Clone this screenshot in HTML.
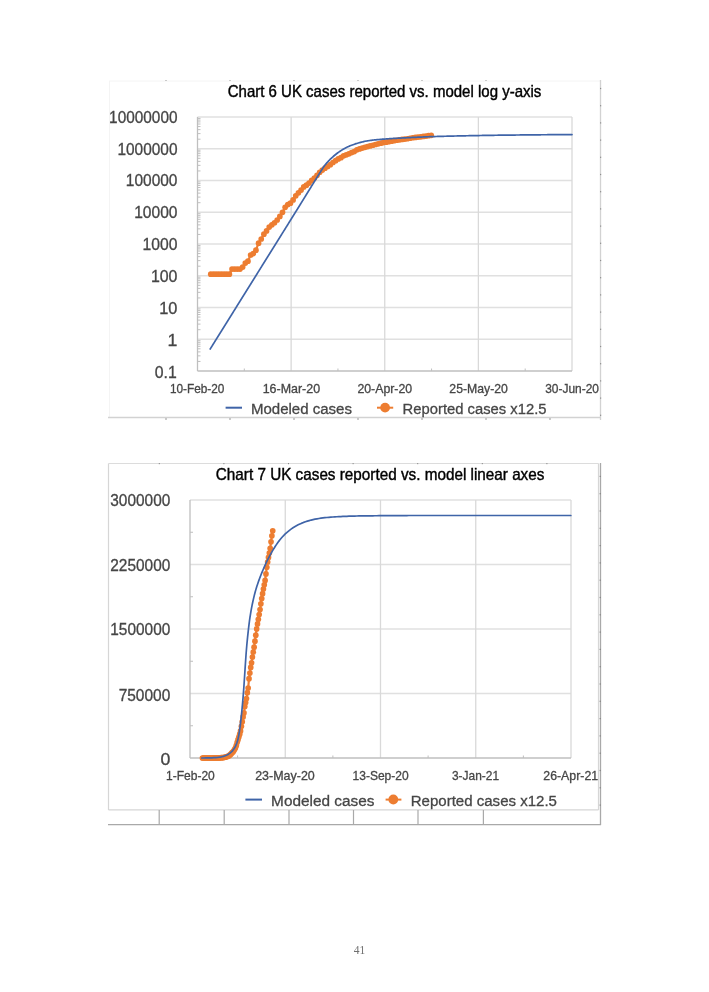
<!DOCTYPE html>
<html><head><meta charset="utf-8"><title>Chart 6 and Chart 7</title>
<style>
html,body{margin:0;padding:0;background:#fff;}
body{width:709px;height:992px;overflow:hidden;}
svg{display:block;font-family:"Liberation Sans",sans-serif;will-change:transform;}

</style></head><body>
<svg width="709" height="992" viewBox="0 0 709 992">
<rect x="0" y="0" width="709" height="992" fill="#fff"/>
<line x1="109" y1="81" x2="600" y2="81" stroke="#f4f4f4" stroke-width="1"/>
<line x1="109.5" y1="81" x2="109.5" y2="417" stroke="#f4f4f4" stroke-width="1"/>
<line x1="108" y1="417.5" x2="601" y2="417.5" stroke="#d2d2d2" stroke-width="1.3"/>
<line x1="600.5" y1="80" x2="600.5" y2="420" stroke="#d2d2d2" stroke-width="1.3"/>
<rect x="165.5" y="80" width="1" height="1" fill="#9a9a9a"/>
<rect x="165.5" y="418" width="1" height="2" fill="#9a9a9a"/>
<rect x="229.5" y="80" width="1" height="1" fill="#9a9a9a"/>
<rect x="229.5" y="418" width="1" height="2" fill="#9a9a9a"/>
<rect x="293.5" y="80" width="1" height="1" fill="#9a9a9a"/>
<rect x="293.5" y="418" width="1" height="2" fill="#9a9a9a"/>
<rect x="357.5" y="80" width="1" height="1" fill="#9a9a9a"/>
<rect x="357.5" y="418" width="1" height="2" fill="#9a9a9a"/>
<rect x="421.5" y="80" width="1" height="1" fill="#9a9a9a"/>
<rect x="421.5" y="418" width="1" height="2" fill="#9a9a9a"/>
<rect x="485.5" y="80" width="1" height="1" fill="#9a9a9a"/>
<rect x="485.5" y="418" width="1" height="2" fill="#9a9a9a"/>
<rect x="549.5" y="418" width="1" height="2" fill="#9a9a9a"/>
<rect x="600" y="87.9" width="1.2" height="1.2" fill="#8f8f8f"/>
<rect x="600" y="105.1" width="1.2" height="1.2" fill="#8f8f8f"/>
<rect x="600" y="122.3" width="1.2" height="1.2" fill="#8f8f8f"/>
<rect x="600" y="139.5" width="1.2" height="1.2" fill="#8f8f8f"/>
<rect x="600" y="156.7" width="1.2" height="1.2" fill="#8f8f8f"/>
<rect x="600" y="173.9" width="1.2" height="1.2" fill="#8f8f8f"/>
<rect x="600" y="191.1" width="1.2" height="1.2" fill="#8f8f8f"/>
<rect x="600" y="208.3" width="1.2" height="1.2" fill="#8f8f8f"/>
<rect x="600" y="225.5" width="1.2" height="1.2" fill="#8f8f8f"/>
<rect x="600" y="242.7" width="1.2" height="1.2" fill="#8f8f8f"/>
<rect x="600" y="259.9" width="1.2" height="1.2" fill="#8f8f8f"/>
<rect x="600" y="277.1" width="1.2" height="1.2" fill="#8f8f8f"/>
<rect x="600" y="294.3" width="1.2" height="1.2" fill="#8f8f8f"/>
<rect x="600" y="311.5" width="1.2" height="1.2" fill="#8f8f8f"/>
<rect x="600" y="328.7" width="1.2" height="1.2" fill="#8f8f8f"/>
<rect x="600" y="345.9" width="1.2" height="1.2" fill="#8f8f8f"/>
<rect x="600" y="363.1" width="1.2" height="1.2" fill="#8f8f8f"/>
<rect x="600" y="380.3" width="1.2" height="1.2" fill="#8f8f8f"/>
<rect x="600" y="397.5" width="1.2" height="1.2" fill="#8f8f8f"/>
<rect x="600" y="414.7" width="1.2" height="1.2" fill="#8f8f8f"/>
<line x1="197.5" y1="117" x2="572" y2="117" stroke="#e0e0e0" stroke-width="1.5"/>
<line x1="197.5" y1="148.75" x2="572" y2="148.75" stroke="#e0e0e0" stroke-width="1.5"/>
<line x1="197.5" y1="180.5" x2="572" y2="180.5" stroke="#e0e0e0" stroke-width="1.5"/>
<line x1="197.5" y1="212.25" x2="572" y2="212.25" stroke="#e0e0e0" stroke-width="1.5"/>
<line x1="197.5" y1="244" x2="572" y2="244" stroke="#e0e0e0" stroke-width="1.5"/>
<line x1="197.5" y1="275.75" x2="572" y2="275.75" stroke="#e0e0e0" stroke-width="1.5"/>
<line x1="197.5" y1="307.5" x2="572" y2="307.5" stroke="#e0e0e0" stroke-width="1.5"/>
<line x1="197.5" y1="339.25" x2="572" y2="339.25" stroke="#e0e0e0" stroke-width="1.5"/>
<line x1="291.12" y1="117" x2="291.12" y2="371" stroke="#d9d9d9" stroke-width="1.3"/>
<line x1="384.75" y1="117" x2="384.75" y2="371" stroke="#d9d9d9" stroke-width="1.3"/>
<line x1="478.38" y1="117" x2="478.38" y2="371" stroke="#d9d9d9" stroke-width="1.3"/>
<line x1="572" y1="117" x2="572" y2="371" stroke="#d9d9d9" stroke-width="1.3"/>
<line x1="197.5" y1="117" x2="197.5" y2="371" stroke="#bfbfbf" stroke-width="1.3"/>
<line x1="197.5" y1="371" x2="572" y2="371" stroke="#bfbfbf" stroke-width="1.3"/>
<line x1="197.5" y1="361.44" x2="200.5" y2="361.44" stroke="#bfbfbf" stroke-width="1"/>
<line x1="197.5" y1="355.85" x2="200.5" y2="355.85" stroke="#bfbfbf" stroke-width="1"/>
<line x1="197.5" y1="351.88" x2="200.5" y2="351.88" stroke="#bfbfbf" stroke-width="1"/>
<line x1="197.5" y1="348.81" x2="200.5" y2="348.81" stroke="#bfbfbf" stroke-width="1"/>
<line x1="197.5" y1="346.29" x2="200.5" y2="346.29" stroke="#bfbfbf" stroke-width="1"/>
<line x1="197.5" y1="344.17" x2="200.5" y2="344.17" stroke="#bfbfbf" stroke-width="1"/>
<line x1="197.5" y1="342.33" x2="200.5" y2="342.33" stroke="#bfbfbf" stroke-width="1"/>
<line x1="197.5" y1="340.7" x2="200.5" y2="340.7" stroke="#bfbfbf" stroke-width="1"/>
<line x1="197.5" y1="329.69" x2="200.5" y2="329.69" stroke="#bfbfbf" stroke-width="1"/>
<line x1="197.5" y1="324.1" x2="200.5" y2="324.1" stroke="#bfbfbf" stroke-width="1"/>
<line x1="197.5" y1="320.13" x2="200.5" y2="320.13" stroke="#bfbfbf" stroke-width="1"/>
<line x1="197.5" y1="317.06" x2="200.5" y2="317.06" stroke="#bfbfbf" stroke-width="1"/>
<line x1="197.5" y1="314.54" x2="200.5" y2="314.54" stroke="#bfbfbf" stroke-width="1"/>
<line x1="197.5" y1="312.42" x2="200.5" y2="312.42" stroke="#bfbfbf" stroke-width="1"/>
<line x1="197.5" y1="310.58" x2="200.5" y2="310.58" stroke="#bfbfbf" stroke-width="1"/>
<line x1="197.5" y1="308.95" x2="200.5" y2="308.95" stroke="#bfbfbf" stroke-width="1"/>
<line x1="197.5" y1="297.94" x2="200.5" y2="297.94" stroke="#bfbfbf" stroke-width="1"/>
<line x1="197.5" y1="292.35" x2="200.5" y2="292.35" stroke="#bfbfbf" stroke-width="1"/>
<line x1="197.5" y1="288.38" x2="200.5" y2="288.38" stroke="#bfbfbf" stroke-width="1"/>
<line x1="197.5" y1="285.31" x2="200.5" y2="285.31" stroke="#bfbfbf" stroke-width="1"/>
<line x1="197.5" y1="282.79" x2="200.5" y2="282.79" stroke="#bfbfbf" stroke-width="1"/>
<line x1="197.5" y1="280.67" x2="200.5" y2="280.67" stroke="#bfbfbf" stroke-width="1"/>
<line x1="197.5" y1="278.83" x2="200.5" y2="278.83" stroke="#bfbfbf" stroke-width="1"/>
<line x1="197.5" y1="277.2" x2="200.5" y2="277.2" stroke="#bfbfbf" stroke-width="1"/>
<line x1="197.5" y1="266.19" x2="200.5" y2="266.19" stroke="#bfbfbf" stroke-width="1"/>
<line x1="197.5" y1="260.6" x2="200.5" y2="260.6" stroke="#bfbfbf" stroke-width="1"/>
<line x1="197.5" y1="256.63" x2="200.5" y2="256.63" stroke="#bfbfbf" stroke-width="1"/>
<line x1="197.5" y1="253.56" x2="200.5" y2="253.56" stroke="#bfbfbf" stroke-width="1"/>
<line x1="197.5" y1="251.04" x2="200.5" y2="251.04" stroke="#bfbfbf" stroke-width="1"/>
<line x1="197.5" y1="248.92" x2="200.5" y2="248.92" stroke="#bfbfbf" stroke-width="1"/>
<line x1="197.5" y1="247.08" x2="200.5" y2="247.08" stroke="#bfbfbf" stroke-width="1"/>
<line x1="197.5" y1="245.45" x2="200.5" y2="245.45" stroke="#bfbfbf" stroke-width="1"/>
<line x1="197.5" y1="234.44" x2="200.5" y2="234.44" stroke="#bfbfbf" stroke-width="1"/>
<line x1="197.5" y1="228.85" x2="200.5" y2="228.85" stroke="#bfbfbf" stroke-width="1"/>
<line x1="197.5" y1="224.88" x2="200.5" y2="224.88" stroke="#bfbfbf" stroke-width="1"/>
<line x1="197.5" y1="221.81" x2="200.5" y2="221.81" stroke="#bfbfbf" stroke-width="1"/>
<line x1="197.5" y1="219.29" x2="200.5" y2="219.29" stroke="#bfbfbf" stroke-width="1"/>
<line x1="197.5" y1="217.17" x2="200.5" y2="217.17" stroke="#bfbfbf" stroke-width="1"/>
<line x1="197.5" y1="215.33" x2="200.5" y2="215.33" stroke="#bfbfbf" stroke-width="1"/>
<line x1="197.5" y1="213.7" x2="200.5" y2="213.7" stroke="#bfbfbf" stroke-width="1"/>
<line x1="197.5" y1="202.69" x2="200.5" y2="202.69" stroke="#bfbfbf" stroke-width="1"/>
<line x1="197.5" y1="197.1" x2="200.5" y2="197.1" stroke="#bfbfbf" stroke-width="1"/>
<line x1="197.5" y1="193.13" x2="200.5" y2="193.13" stroke="#bfbfbf" stroke-width="1"/>
<line x1="197.5" y1="190.06" x2="200.5" y2="190.06" stroke="#bfbfbf" stroke-width="1"/>
<line x1="197.5" y1="187.54" x2="200.5" y2="187.54" stroke="#bfbfbf" stroke-width="1"/>
<line x1="197.5" y1="185.42" x2="200.5" y2="185.42" stroke="#bfbfbf" stroke-width="1"/>
<line x1="197.5" y1="183.58" x2="200.5" y2="183.58" stroke="#bfbfbf" stroke-width="1"/>
<line x1="197.5" y1="181.95" x2="200.5" y2="181.95" stroke="#bfbfbf" stroke-width="1"/>
<line x1="197.5" y1="170.94" x2="200.5" y2="170.94" stroke="#bfbfbf" stroke-width="1"/>
<line x1="197.5" y1="165.35" x2="200.5" y2="165.35" stroke="#bfbfbf" stroke-width="1"/>
<line x1="197.5" y1="161.38" x2="200.5" y2="161.38" stroke="#bfbfbf" stroke-width="1"/>
<line x1="197.5" y1="158.31" x2="200.5" y2="158.31" stroke="#bfbfbf" stroke-width="1"/>
<line x1="197.5" y1="155.79" x2="200.5" y2="155.79" stroke="#bfbfbf" stroke-width="1"/>
<line x1="197.5" y1="153.67" x2="200.5" y2="153.67" stroke="#bfbfbf" stroke-width="1"/>
<line x1="197.5" y1="151.83" x2="200.5" y2="151.83" stroke="#bfbfbf" stroke-width="1"/>
<line x1="197.5" y1="150.2" x2="200.5" y2="150.2" stroke="#bfbfbf" stroke-width="1"/>
<line x1="197.5" y1="139.19" x2="200.5" y2="139.19" stroke="#bfbfbf" stroke-width="1"/>
<line x1="197.5" y1="133.6" x2="200.5" y2="133.6" stroke="#bfbfbf" stroke-width="1"/>
<line x1="197.5" y1="129.63" x2="200.5" y2="129.63" stroke="#bfbfbf" stroke-width="1"/>
<line x1="197.5" y1="126.56" x2="200.5" y2="126.56" stroke="#bfbfbf" stroke-width="1"/>
<line x1="197.5" y1="124.04" x2="200.5" y2="124.04" stroke="#bfbfbf" stroke-width="1"/>
<line x1="197.5" y1="121.92" x2="200.5" y2="121.92" stroke="#bfbfbf" stroke-width="1"/>
<line x1="197.5" y1="120.08" x2="200.5" y2="120.08" stroke="#bfbfbf" stroke-width="1"/>
<line x1="197.5" y1="118.45" x2="200.5" y2="118.45" stroke="#bfbfbf" stroke-width="1"/>
<line x1="244.31" y1="371" x2="244.31" y2="368.5" stroke="#bfbfbf" stroke-width="1"/>
<line x1="337.94" y1="371" x2="337.94" y2="368.5" stroke="#bfbfbf" stroke-width="1"/>
<line x1="431.56" y1="371" x2="431.56" y2="368.5" stroke="#bfbfbf" stroke-width="1"/>
<line x1="525.19" y1="371" x2="525.19" y2="368.5" stroke="#bfbfbf" stroke-width="1"/>
<text x="177.5" y="122.9" font-size="15.8" text-anchor="end" fill="#464646" stroke="#464646" stroke-width="0.3" textLength="68.38" lengthAdjust="spacingAndGlyphs">10000000</text>
<text x="177.5" y="154.65" font-size="15.8" text-anchor="end" fill="#464646" stroke="#464646" stroke-width="0.3" textLength="60.02" lengthAdjust="spacingAndGlyphs">1000000</text>
<text x="177.5" y="186.4" font-size="15.8" text-anchor="end" fill="#464646" stroke="#464646" stroke-width="0.3" textLength="51.66" lengthAdjust="spacingAndGlyphs">100000</text>
<text x="177.5" y="218.15" font-size="15.8" text-anchor="end" fill="#464646" stroke="#464646" stroke-width="0.3" textLength="43.3" lengthAdjust="spacingAndGlyphs">10000</text>
<text x="177.5" y="250.3" font-size="15.8" text-anchor="end" fill="#464646" stroke="#464646" stroke-width="0.3" textLength="34.94" lengthAdjust="spacingAndGlyphs">1000</text>
<text x="177.5" y="282.25" font-size="15.8" text-anchor="end" fill="#464646" stroke="#464646" stroke-width="0.3" textLength="26.58" lengthAdjust="spacingAndGlyphs">100</text>
<text x="177.5" y="314.4" font-size="15.8" text-anchor="end" fill="#464646" stroke="#464646" stroke-width="0.3" textLength="18.22" lengthAdjust="spacingAndGlyphs">10</text>
<text x="177.5" y="346.15" font-size="15.8" text-anchor="end" fill="#464646" stroke="#464646" stroke-width="0.3" textLength="9.86" lengthAdjust="spacingAndGlyphs">1</text>
<text x="176.8" y="377.9" font-size="15.8" text-anchor="end" fill="#464646" stroke="#464646" stroke-width="0.3">0.1</text>
<text x="197.2" y="392.8" font-size="12.4" text-anchor="middle" fill="#464646" stroke="#464646" stroke-width="0.3" textLength="54.5" lengthAdjust="spacingAndGlyphs">10-Feb-20</text>
<text x="291.4" y="392.8" font-size="12.4" text-anchor="middle" fill="#464646" stroke="#464646" stroke-width="0.3" textLength="57.4" lengthAdjust="spacingAndGlyphs">16-Mar-20</text>
<text x="384.8" y="392.8" font-size="12.4" text-anchor="middle" fill="#464646" stroke="#464646" stroke-width="0.3" textLength="54.8" lengthAdjust="spacingAndGlyphs">20-Apr-20</text>
<text x="478.6" y="392.8" font-size="12.4" text-anchor="middle" fill="#464646" stroke="#464646" stroke-width="0.3" textLength="58.5" lengthAdjust="spacingAndGlyphs">25-May-20</text>
<text x="572.1" y="392.8" font-size="12.4" text-anchor="middle" fill="#464646" stroke="#464646" stroke-width="0.3" textLength="53.8" lengthAdjust="spacingAndGlyphs">30-Jun-20</text>
<text x="227.7" y="97.2" font-size="15.7" fill="#000" stroke="#000" stroke-width="0.4" textLength="313.7" lengthAdjust="spacingAndGlyphs">Chart 6 UK cases reported vs. model log y-axis</text>
<line x1="225.6" y1="407.7" x2="242" y2="407.7" stroke="#3F64A8" stroke-width="2"/>
<text x="250.9" y="413.6" font-size="15.5" text-anchor="start" fill="#464646" stroke="#464646" stroke-width="0.3" textLength="101.1" lengthAdjust="spacingAndGlyphs">Modeled cases</text>
<line x1="377" y1="407.7" x2="393.2" y2="407.7" stroke="#ED7D31" stroke-width="2"/>
<circle cx="385.1" cy="407.6" r="4.9" fill="#ED7D31"/>
<text x="402.6" y="413.5" font-size="15.5" text-anchor="start" fill="#464646" stroke="#464646" stroke-width="0.3" textLength="143.9" lengthAdjust="spacingAndGlyphs">Reported cases x12.5</text>
<polyline points="210.78,274.13 213.44,274.13 216.09,274.13 218.75,274.13 221.4,274.13 224.06,274.13 226.72,274.13 229.37,274.13 232.03,269.06 234.68,269.06 237.34,269.06 240,269.06 242.65,267.08 245.31,263.12 247.96,261.19 250.62,255.01 253.28,253.56 255.93,250.21 258.59,243.16 261.24,239 263.9,234.19 266.56,230.96 269.21,227.07 271.87,224.84 274.52,222.77 277.18,220 279.84,216.45 282.49,212.28 285.15,207.37 287.8,204.62 290.46,203.19 293.12,199.96 295.77,195.86 298.43,192.84 301.09,190.12 303.74,186.93 306.4,185.22 309.05,183.05 311.71,180.37 314.37,178.09 317.02,175.31 319.68,172.26 322.33,170.03 324.99,168.2 327.65,166.46 330.3,164.71 332.96,162.52 335.61,160.66 338.27,158.95 340.93,157.67 343.58,155.85 346.24,154.79 348.89,153.86 351.55,152.55 354.21,151.6 356.86,149.87 359.52,148.93 362.17,148.03 364.83,147.34 367.49,146.54 370.14,145.88 372.8,145.25 375.45,144.52 378.11,143.84 380.77,143.15 383.42,142.62 386.08,142.16 388.73,141.69 391.39,141.22 394.05,140.7 396.7,140.23 399.36,139.82 402.01,139.44 404.67,139.09 407.33,138.75 409.98,138.26 412.64,137.76 415.29,137.4 417.95,137.07 420.61,136.78 423.26,136.47 425.92,136.04 428.57,135.66 431.23,135.35" fill="none" stroke="#ED7D31" stroke-width="2.2" stroke-linejoin="round"/>
<g fill="#ED7D31"><circle cx="210.78" cy="274.13" r="2.85"/><circle cx="213.44" cy="274.13" r="2.85"/><circle cx="216.09" cy="274.13" r="2.85"/><circle cx="218.75" cy="274.13" r="2.85"/><circle cx="221.4" cy="274.13" r="2.85"/><circle cx="224.06" cy="274.13" r="2.85"/><circle cx="226.72" cy="274.13" r="2.85"/><circle cx="229.37" cy="274.13" r="2.85"/><circle cx="232.03" cy="269.06" r="2.85"/><circle cx="234.68" cy="269.06" r="2.85"/><circle cx="237.34" cy="269.06" r="2.85"/><circle cx="240" cy="269.06" r="2.85"/><circle cx="242.65" cy="267.08" r="2.85"/><circle cx="245.31" cy="263.12" r="2.85"/><circle cx="247.96" cy="261.19" r="2.85"/><circle cx="250.62" cy="255.01" r="2.85"/><circle cx="253.28" cy="253.56" r="2.85"/><circle cx="255.93" cy="250.21" r="2.85"/><circle cx="258.59" cy="243.16" r="2.85"/><circle cx="261.24" cy="239" r="2.85"/><circle cx="263.9" cy="234.19" r="2.85"/><circle cx="266.56" cy="230.96" r="2.85"/><circle cx="269.21" cy="227.07" r="2.85"/><circle cx="271.87" cy="224.84" r="2.85"/><circle cx="274.52" cy="222.77" r="2.85"/><circle cx="277.18" cy="220" r="2.85"/><circle cx="279.84" cy="216.45" r="2.85"/><circle cx="282.49" cy="212.28" r="2.85"/><circle cx="285.15" cy="207.37" r="2.85"/><circle cx="287.8" cy="204.62" r="2.85"/><circle cx="290.46" cy="203.19" r="2.85"/><circle cx="293.12" cy="199.96" r="2.85"/><circle cx="295.77" cy="195.86" r="2.85"/><circle cx="298.43" cy="192.84" r="2.85"/><circle cx="301.09" cy="190.12" r="2.85"/><circle cx="303.74" cy="186.93" r="2.85"/><circle cx="306.4" cy="185.22" r="2.85"/><circle cx="309.05" cy="183.05" r="2.85"/><circle cx="311.71" cy="180.37" r="2.85"/><circle cx="314.37" cy="178.09" r="2.85"/><circle cx="317.02" cy="175.31" r="2.85"/><circle cx="319.68" cy="172.26" r="2.85"/><circle cx="322.33" cy="170.03" r="2.85"/><circle cx="324.99" cy="168.2" r="2.85"/><circle cx="327.65" cy="166.46" r="2.85"/><circle cx="330.3" cy="164.71" r="2.85"/><circle cx="332.96" cy="162.52" r="2.85"/><circle cx="335.61" cy="160.66" r="2.85"/><circle cx="338.27" cy="158.95" r="2.85"/><circle cx="340.93" cy="157.67" r="2.85"/><circle cx="343.58" cy="155.85" r="2.85"/><circle cx="346.24" cy="154.79" r="2.85"/><circle cx="348.89" cy="153.86" r="2.85"/><circle cx="351.55" cy="152.55" r="2.85"/><circle cx="354.21" cy="151.6" r="2.85"/><circle cx="356.86" cy="149.87" r="2.85"/><circle cx="359.52" cy="148.93" r="2.85"/><circle cx="362.17" cy="148.03" r="2.85"/><circle cx="364.83" cy="147.34" r="2.85"/><circle cx="367.49" cy="146.54" r="2.85"/><circle cx="370.14" cy="145.88" r="2.85"/><circle cx="372.8" cy="145.25" r="2.85"/><circle cx="375.45" cy="144.52" r="2.85"/><circle cx="378.11" cy="143.84" r="2.85"/><circle cx="380.77" cy="143.15" r="2.85"/><circle cx="383.42" cy="142.62" r="2.85"/><circle cx="386.08" cy="142.16" r="2.85"/><circle cx="388.73" cy="141.69" r="2.85"/><circle cx="391.39" cy="141.22" r="2.85"/><circle cx="394.05" cy="140.7" r="2.85"/><circle cx="396.7" cy="140.23" r="2.85"/><circle cx="399.36" cy="139.82" r="2.85"/><circle cx="402.01" cy="139.44" r="2.85"/><circle cx="404.67" cy="139.09" r="2.85"/><circle cx="407.33" cy="138.75" r="2.85"/><circle cx="409.98" cy="138.26" r="2.85"/><circle cx="412.64" cy="137.76" r="2.85"/><circle cx="415.29" cy="137.4" r="2.85"/><circle cx="417.95" cy="137.07" r="2.85"/><circle cx="420.61" cy="136.78" r="2.85"/><circle cx="423.26" cy="136.47" r="2.85"/><circle cx="425.92" cy="136.04" r="2.85"/><circle cx="428.57" cy="135.66" r="2.85"/><circle cx="431.23" cy="135.35" r="2.85"/></g>
<polyline points="210.2,349 210.62,348.33 211.03,347.66 211.45,347 211.87,346.33 212.28,345.66 212.7,344.99 213.12,344.32 213.53,343.66 213.95,342.99 214.36,342.32 214.78,341.65 215.2,340.98 215.61,340.32 216.03,339.65 216.45,338.98 216.86,338.31 217.28,337.64 217.7,336.98 218.11,336.31 218.53,335.64 218.95,334.97 219.36,334.3 219.78,333.64 220.19,332.97 220.61,332.3 221.03,331.63 221.44,330.96 221.86,330.29 222.28,329.63 222.69,328.96 223.11,328.29 223.53,327.62 223.94,326.95 224.36,326.29 224.78,325.62 225.19,324.95 225.61,324.28 226.02,323.61 226.44,322.95 226.86,322.28 227.27,321.61 227.69,320.94 228.11,320.27 228.52,319.61 228.94,318.94 229.36,318.27 229.77,317.6 230.19,316.93 230.61,316.27 231.02,315.6 231.44,314.93 231.85,314.26 232.27,313.59 232.69,312.93 233.1,312.26 233.52,311.59 233.94,310.92 234.35,310.25 234.77,309.58 235.19,308.92 235.6,308.25 236.02,307.58 236.43,306.91 236.85,306.24 237.27,305.58 237.68,304.91 238.1,304.24 238.52,303.57 238.93,302.9 239.35,302.24 239.77,301.57 240.18,300.9 240.6,300.23 241.01,299.56 241.43,298.9 241.85,298.23 242.26,297.56 242.68,296.89 243.1,296.22 243.51,295.56 243.93,294.89 244.35,294.22 244.76,293.55 245.18,292.88 245.6,292.21 246.01,291.55 246.43,290.88 246.84,290.21 247.26,289.54 247.68,288.87 248.09,288.21 248.51,287.54 248.93,286.87 249.34,286.2 249.76,285.53 250.18,284.87 250.59,284.2 251.01,283.53 251.42,282.86 251.84,282.19 252.26,281.53 252.67,280.86 253.09,280.19 253.51,279.52 253.92,278.85 254.34,278.18 254.75,277.52 255.17,276.85 255.59,276.18 256,275.51 256.42,274.84 256.84,274.18 257.25,273.51 257.67,272.84 258.09,272.17 258.5,271.5 258.92,270.84 259.33,270.17 259.75,269.5 260.17,268.83 260.58,268.16 261,267.5 261.42,266.83 261.83,266.16 262.25,265.49 262.67,264.82 263.08,264.16 263.5,263.49 263.92,262.82 264.33,262.15 264.75,261.48 265.17,260.82 265.58,260.15 266,259.48 266.42,258.81 266.83,258.14 267.25,257.48 267.67,256.81 268.08,256.14 268.5,255.47 268.92,254.8 269.33,254.14 269.75,253.47 270.17,252.8 270.58,252.13 271,251.47 271.42,250.8 271.83,250.13 272.25,249.46 272.67,248.79 273.08,248.13 273.5,247.46 273.92,246.79 274.33,246.12 274.75,245.46 275.17,244.79 275.59,244.12 276,243.45 276.42,242.78 276.84,242.12 277.25,241.45 277.67,240.78 278.09,240.11 278.5,239.44 278.92,238.78 279.34,238.11 279.75,237.44 280.17,236.77 280.59,236.11 281,235.44 281.42,234.77 281.84,234.1 282.25,233.43 282.67,232.77 283.09,232.1 283.5,231.43 283.92,230.76 284.33,230.09 284.75,229.43 285.17,228.76 285.58,228.09 286,227.42 286.42,226.75 286.83,226.08 287.25,225.42 287.67,224.75 288.08,224.08 288.5,223.41 288.91,222.74 289.33,222.08 289.75,221.41 290.16,220.74 290.58,220.07 290.99,219.4 291.41,218.73 291.83,218.07 292.24,217.4 292.66,216.73 293.07,216.06 293.49,215.39 293.9,214.72 294.32,214.05 294.73,213.39 295.15,212.72 295.57,212.05 295.98,211.38 296.4,210.71 296.81,210.04 297.23,209.37 297.64,208.7 298.06,208.03 298.47,207.37 298.89,206.7 299.3,206.03 299.72,205.36 300.13,204.69 300.54,204.02 300.96,203.35 301.37,202.68 301.79,202.01 302.2,201.34 302.61,200.67 303.03,200 303.44,199.33 303.85,198.66 304.27,197.99 304.68,197.32 305.09,196.65 305.51,195.98 305.92,195.31 306.33,194.64 306.74,193.97 307.16,193.3 307.57,192.63 307.98,191.96 308.39,191.29 308.81,190.62 309.22,189.95 309.63,189.28 310.05,188.61 310.46,187.94 310.87,187.27 311.29,186.6 311.7,185.93 312.11,185.26 312.53,184.59 312.94,183.92 313.36,183.25 313.77,182.58 314.19,181.91 314.6,181.24 315.02,180.57 315.43,179.91 315.85,179.24 316.26,178.57 316.68,177.9 317.09,177.23 317.51,176.56 317.92,175.89 318.34,175.22 318.76,174.56 319.18,173.89 319.6,173.23 320.02,172.56 320.45,171.9 320.86,171.23 321.28,170.56 321.7,169.89 322.12,169.22 322.54,168.55 322.98,167.89 323.41,167.24 323.86,166.6 324.32,165.96 324.8,165.34 325.28,164.73 325.78,164.12 326.29,163.52 326.8,162.92 327.33,162.33 327.86,161.74 328.4,161.16 328.94,160.59 329.5,160.02 330.05,159.46 330.62,158.91 331.18,158.37 331.75,157.83 332.33,157.3 332.91,156.77 333.5,156.26 334.1,155.74 334.71,155.24 335.32,154.74 335.94,154.24 336.56,153.76 337.19,153.28 337.83,152.81 338.47,152.35 339.11,151.9 339.75,151.46 340.41,151.02 341.07,150.59 341.73,150.16 342.4,149.74 343.08,149.33 343.76,148.93 344.44,148.53 345.13,148.15 345.83,147.79 346.53,147.43 347.23,147.09 347.94,146.76 348.66,146.44 349.38,146.13 350.11,145.83 350.85,145.53 351.58,145.25 352.32,144.97 353.06,144.7 353.81,144.44 354.55,144.18 355.29,143.93 356.04,143.68 356.79,143.44 357.55,143.21 358.3,142.98 359.06,142.77 359.82,142.56 360.58,142.35 361.34,142.16 362.11,141.98 362.87,141.8 363.64,141.62 364.41,141.45 365.18,141.29 365.96,141.13 366.73,140.99 367.51,140.85 368.28,140.72 369.06,140.61 369.84,140.5 370.61,140.4 371.39,140.3 372.17,140.2 372.96,140.11 373.74,140.02 374.52,139.94 375.3,139.86 376.09,139.78 376.87,139.7 377.66,139.62 378.44,139.55 379.23,139.48 380.01,139.41 380.8,139.35 381.58,139.28 382.37,139.22 383.15,139.16 383.94,139.1 384.72,139.04 385.51,138.98 386.29,138.92 387.08,138.87 387.86,138.81 388.65,138.76 389.43,138.71 390.22,138.66 391.01,138.61 391.79,138.56 392.58,138.51 393.36,138.47 394.15,138.42 394.94,138.38 395.72,138.33 396.51,138.29 397.29,138.25 398.08,138.2 398.87,138.16 399.65,138.12 400.44,138.08 401.22,138.03 402.01,137.99 402.8,137.95 403.58,137.91 404.37,137.87 405.16,137.83 405.94,137.79 406.73,137.75 407.51,137.7 408.3,137.66 409.09,137.62 409.87,137.58 410.66,137.54 411.44,137.51 412.23,137.47 413.02,137.43 413.8,137.39 414.59,137.35 415.38,137.31 416.16,137.28 416.95,137.24 417.74,137.2 418.52,137.17 419.31,137.13 420.1,137.1 420.88,137.06 421.67,137.03 422.46,136.99 423.24,136.96 424.03,136.93 424.81,136.9 425.6,136.87 426.39,136.83 427.17,136.8 427.96,136.77 428.75,136.75 429.53,136.72 430.32,136.69 431.11,136.66 431.89,136.64 432.68,136.61 433.47,136.59 434.25,136.56 435.04,136.54 435.83,136.51 436.61,136.49 437.4,136.46 438.19,136.44 438.98,136.42 439.76,136.4 440.55,136.37 441.34,136.35 442.12,136.33 442.91,136.31 443.7,136.29 444.48,136.27 445.27,136.25 446.06,136.23 446.84,136.21 447.63,136.19 448.42,136.17 449.21,136.15 449.99,136.13 450.78,136.11 451.57,136.09 452.35,136.07 453.14,136.06 453.93,136.04 454.71,136.02 455.5,136 456.29,135.98 457.08,135.97 457.86,135.95 458.65,135.93 459.44,135.92 460.22,135.9 461.01,135.88 461.8,135.87 462.59,135.85 463.37,135.83 464.16,135.82 464.95,135.8 465.73,135.78 466.52,135.77 467.31,135.75 468.09,135.74 468.88,135.72 469.67,135.71 470.46,135.69 471.24,135.68 472.03,135.66 472.82,135.64 473.6,135.63 474.39,135.61 475.18,135.6 475.97,135.58 476.75,135.57 477.54,135.55 478.33,135.54 479.11,135.53 479.9,135.51 480.69,135.5 481.48,135.48 482.26,135.47 483.05,135.45 483.84,135.44 484.62,135.43 485.41,135.41 486.2,135.4 486.98,135.39 487.77,135.37 488.56,135.36 489.35,135.35 490.13,135.34 490.92,135.32 491.71,135.31 492.49,135.3 493.28,135.29 494.07,135.28 494.86,135.27 495.64,135.26 496.43,135.24 497.22,135.23 498,135.22 498.79,135.21 499.58,135.2 500.37,135.2 501.15,135.19 501.94,135.18 502.73,135.17 503.51,135.16 504.3,135.15 505.09,135.14 505.88,135.13 506.66,135.12 507.45,135.11 508.24,135.11 509.02,135.1 509.81,135.09 510.6,135.08 511.39,135.07 512.17,135.06 512.96,135.05 513.75,135.04 514.53,135.03 515.32,135.03 516.11,135.02 516.9,135.01 517.68,135 518.47,134.99 519.26,134.98 520.04,134.97 520.83,134.97 521.62,134.96 522.41,134.95 523.19,134.94 523.98,134.93 524.77,134.93 525.55,134.92 526.34,134.91 527.13,134.9 527.92,134.89 528.7,134.89 529.49,134.88 530.28,134.87 531.07,134.86 531.85,134.86 532.64,134.85 533.43,134.84 534.21,134.83 535,134.83 535.79,134.82 536.58,134.81 537.36,134.81 538.15,134.8 538.94,134.79 539.72,134.78 540.51,134.78 541.3,134.77 542.09,134.77 542.87,134.76 543.66,134.75 544.45,134.75 545.23,134.74 546.02,134.73 546.81,134.73 547.6,134.72 548.38,134.72 549.17,134.71 549.96,134.71 550.74,134.7 551.53,134.7 552.32,134.69 553.11,134.68 553.89,134.68 554.68,134.68 555.47,134.67 556.26,134.67 557.04,134.66 557.83,134.66 558.62,134.65 559.4,134.65 560.19,134.64 560.98,134.64 561.77,134.64 562.55,134.63 563.34,134.63 564.13,134.63 564.91,134.62 565.7,134.62 566.49,134.62 567.28,134.61 568.06,134.61 568.85,134.61 569.64,134.61 570.43,134.6 571.21,134.6 572,134.6" fill="none" stroke="#3F64A8" stroke-width="1.7" stroke-linejoin="round" stroke-linecap="round"/>
<line x1="108.5" y1="463.5" x2="598.5" y2="463.5" stroke="#dcdcdc" stroke-width="1"/>
<line x1="108.5" y1="463.5" x2="108.5" y2="810" stroke="#d6d6d6" stroke-width="1.2"/>
<line x1="108.5" y1="809.8" x2="598.5" y2="809.8" stroke="#d6d6d6" stroke-width="1.2"/>
<line x1="598.5" y1="463.5" x2="598.5" y2="810" stroke="#d6d6d6" stroke-width="1.2"/>
<line x1="600.5" y1="463" x2="600.5" y2="825" stroke="#a9a9a9" stroke-width="1.3"/>
<line x1="108" y1="824.6" x2="601" y2="824.6" stroke="#a9a9a9" stroke-width="1.3"/>
<rect x="599.6" y="475.8" width="1.4" height="1.2" fill="#8a8a8a"/>
<rect x="599.6" y="493.1" width="1.4" height="1.2" fill="#8a8a8a"/>
<rect x="599.6" y="510.4" width="1.4" height="1.2" fill="#8a8a8a"/>
<rect x="599.6" y="527.7" width="1.4" height="1.2" fill="#8a8a8a"/>
<rect x="599.6" y="545" width="1.4" height="1.2" fill="#8a8a8a"/>
<rect x="599.6" y="562.3" width="1.4" height="1.2" fill="#8a8a8a"/>
<rect x="599.6" y="579.6" width="1.4" height="1.2" fill="#8a8a8a"/>
<rect x="599.6" y="596.9" width="1.4" height="1.2" fill="#8a8a8a"/>
<rect x="599.6" y="614.2" width="1.4" height="1.2" fill="#8a8a8a"/>
<rect x="599.6" y="631.5" width="1.4" height="1.2" fill="#8a8a8a"/>
<rect x="599.6" y="648.8" width="1.4" height="1.2" fill="#8a8a8a"/>
<rect x="599.6" y="666.1" width="1.4" height="1.2" fill="#8a8a8a"/>
<rect x="599.6" y="683.4" width="1.4" height="1.2" fill="#8a8a8a"/>
<rect x="599.6" y="700.7" width="1.4" height="1.2" fill="#8a8a8a"/>
<rect x="599.6" y="718" width="1.4" height="1.2" fill="#8a8a8a"/>
<rect x="599.6" y="735.3" width="1.4" height="1.2" fill="#8a8a8a"/>
<rect x="599.6" y="752.6" width="1.4" height="1.2" fill="#8a8a8a"/>
<rect x="599.6" y="769.9" width="1.4" height="1.2" fill="#8a8a8a"/>
<rect x="599.6" y="787.2" width="1.4" height="1.2" fill="#8a8a8a"/>
<rect x="599.6" y="804.5" width="1.4" height="1.2" fill="#8a8a8a"/>
<line x1="159.2" y1="810" x2="159.2" y2="825" stroke="#a9a9a9" stroke-width="1.2"/>
<line x1="224.2" y1="810" x2="224.2" y2="825" stroke="#a9a9a9" stroke-width="1.2"/>
<line x1="289" y1="810" x2="289" y2="825" stroke="#a9a9a9" stroke-width="1.2"/>
<line x1="353.5" y1="810" x2="353.5" y2="825" stroke="#a9a9a9" stroke-width="1.2"/>
<line x1="418" y1="810" x2="418" y2="825" stroke="#a9a9a9" stroke-width="1.2"/>
<line x1="483.4" y1="810" x2="483.4" y2="825" stroke="#a9a9a9" stroke-width="1.2"/>
<rect x="158.8" y="463" width="1" height="1.2" fill="#8a8a8a"/>
<rect x="223.4" y="463" width="1" height="1.2" fill="#8a8a8a"/>
<rect x="288" y="463" width="1" height="1.2" fill="#8a8a8a"/>
<rect x="352.6" y="463" width="1" height="1.2" fill="#8a8a8a"/>
<rect x="417.2" y="463" width="1" height="1.2" fill="#8a8a8a"/>
<rect x="481.8" y="463" width="1" height="1.2" fill="#8a8a8a"/>
<rect x="546.4" y="463" width="1" height="1.2" fill="#8a8a8a"/>
<line x1="190" y1="500" x2="571" y2="500" stroke="#e0e0e0" stroke-width="1.5"/>
<line x1="190" y1="564.5" x2="571" y2="564.5" stroke="#e0e0e0" stroke-width="1.5"/>
<line x1="190" y1="629" x2="571" y2="629" stroke="#e0e0e0" stroke-width="1.5"/>
<line x1="190" y1="693.5" x2="571" y2="693.5" stroke="#e0e0e0" stroke-width="1.5"/>
<line x1="285.25" y1="500" x2="285.25" y2="758" stroke="#d9d9d9" stroke-width="1.3"/>
<line x1="380.5" y1="500" x2="380.5" y2="758" stroke="#d9d9d9" stroke-width="1.3"/>
<line x1="475.75" y1="500" x2="475.75" y2="758" stroke="#d9d9d9" stroke-width="1.3"/>
<line x1="571" y1="500" x2="571" y2="758" stroke="#d9d9d9" stroke-width="1.3"/>
<line x1="190" y1="500" x2="190" y2="758" stroke="#bfbfbf" stroke-width="1.3"/>
<line x1="190" y1="758" x2="571" y2="758" stroke="#bfbfbf" stroke-width="1.3"/>
<line x1="190" y1="532.25" x2="193" y2="532.25" stroke="#bfbfbf" stroke-width="1"/>
<line x1="190" y1="596.75" x2="193" y2="596.75" stroke="#bfbfbf" stroke-width="1"/>
<line x1="190" y1="661.25" x2="193" y2="661.25" stroke="#bfbfbf" stroke-width="1"/>
<line x1="190" y1="725.75" x2="193" y2="725.75" stroke="#bfbfbf" stroke-width="1"/>
<line x1="237.62" y1="758" x2="237.62" y2="755.5" stroke="#bfbfbf" stroke-width="1"/>
<line x1="332.88" y1="758" x2="332.88" y2="755.5" stroke="#bfbfbf" stroke-width="1"/>
<line x1="428.12" y1="758" x2="428.12" y2="755.5" stroke="#bfbfbf" stroke-width="1"/>
<line x1="523.38" y1="758" x2="523.38" y2="755.5" stroke="#bfbfbf" stroke-width="1"/>
<text x="170.3" y="505.8" font-size="15.8" text-anchor="end" fill="#464646" stroke="#464646" stroke-width="0.3" textLength="60.02" lengthAdjust="spacingAndGlyphs">3000000</text>
<text x="170.3" y="570.9" font-size="15.8" text-anchor="end" fill="#464646" stroke="#464646" stroke-width="0.3" textLength="60.02" lengthAdjust="spacingAndGlyphs">2250000</text>
<text x="170.3" y="635.4" font-size="15.8" text-anchor="end" fill="#464646" stroke="#464646" stroke-width="0.3" textLength="60.02" lengthAdjust="spacingAndGlyphs">1500000</text>
<text x="170.3" y="700.7" font-size="15.8" text-anchor="end" fill="#464646" stroke="#464646" stroke-width="0.3" textLength="51.66" lengthAdjust="spacingAndGlyphs">750000</text>
<text x="170.3" y="765.3" font-size="15.8" text-anchor="end" fill="#464646" stroke="#464646" stroke-width="0.3" textLength="9.86" lengthAdjust="spacingAndGlyphs">0</text>
<text x="190.4" y="780" font-size="12.4" text-anchor="middle" fill="#464646" stroke="#464646" stroke-width="0.3" textLength="48.8" lengthAdjust="spacingAndGlyphs">1-Feb-20</text>
<text x="285" y="780" font-size="12.4" text-anchor="middle" fill="#464646" stroke="#464646" stroke-width="0.3" textLength="59.6" lengthAdjust="spacingAndGlyphs">23-May-20</text>
<text x="380.6" y="780" font-size="12.4" text-anchor="middle" fill="#464646" stroke="#464646" stroke-width="0.3" textLength="56.2" lengthAdjust="spacingAndGlyphs">13-Sep-20</text>
<text x="475.5" y="780" font-size="12.4" text-anchor="middle" fill="#464646" stroke="#464646" stroke-width="0.3" textLength="47.1" lengthAdjust="spacingAndGlyphs">3-Jan-21</text>
<text x="570.7" y="780" font-size="12.4" text-anchor="middle" fill="#464646" stroke="#464646" stroke-width="0.3" textLength="54.8" lengthAdjust="spacingAndGlyphs">26-Apr-21</text>
<text x="215.8" y="479.7" font-size="15.7" text-anchor="start" fill="#000" stroke="#000" stroke-width="0.4" textLength="328.6" lengthAdjust="spacingAndGlyphs">Chart 7 UK cases reported vs. model linear axes</text>
<line x1="245.4" y1="799.6" x2="262" y2="799.6" stroke="#3F64A8" stroke-width="2"/>
<text x="271.1" y="806.3" font-size="15.5" text-anchor="start" fill="#464646" stroke="#464646" stroke-width="0.3" textLength="103.3" lengthAdjust="spacingAndGlyphs">Modeled cases</text>
<line x1="385.6" y1="799.6" x2="401.4" y2="799.6" stroke="#ED7D31" stroke-width="2"/>
<circle cx="393.3" cy="799.5" r="4.9" fill="#ED7D31"/>
<text x="410.7" y="806.2" font-size="15.5" text-anchor="start" fill="#464646" stroke="#464646" stroke-width="0.3" textLength="146.3" lengthAdjust="spacingAndGlyphs">Reported cases x12.5</text>
<polyline points="202.45,757.99 203.3,757.99 204.15,757.99 204.99,757.99 205.84,757.99 206.69,757.99 207.53,757.99 208.38,757.99 209.23,757.99 210.07,757.99 210.92,757.99 211.77,757.99 212.61,757.98 213.46,757.98 214.31,757.98 215.15,757.96 216,757.96 216.85,757.95 217.69,757.91 218.54,757.88 219.39,757.82 220.23,757.78 221.08,757.71 221.93,757.65 222.77,757.6 223.62,757.51 224.47,757.37 225.31,757.14 226.16,756.77 227.01,756.5 227.85,756.34 228.7,755.9 229.55,755.18 230.39,754.49 231.24,753.72 232.09,752.61 232.93,751.89 233.78,750.85 234.63,749.32 235.47,747.76 236.32,745.47 237.17,742.37 238.01,739.63 238.86,737.01 239.71,734.2 240.55,730.96 241.4,726.32 242.25,721.75 243.09,716.97 243.94,712.95 244.79,706.61 245.63,702.52 246.48,698.61 247.33,692.71 248.17,688.04 249.02,678.71 249.87,673.08 250.71,667.4 251.56,662.73 252.41,657.09 253.25,652.14 254.1,647.18 254.95,641.16 255.79,635.22 256.64,628.93 257.49,623.9 258.33,619.28 259.18,614.49 260.03,609.57 260.87,603.78 261.72,598.49 262.57,593.7 263.41,589.06 264.26,584.77 265.11,580.39 265.95,573.9 266.8,567.24 267.65,562.07 268.49,557.41 269.34,553.12 270.19,548.39 271.03,541.82 271.88,535.78 272.73,530.78" fill="none" stroke="#ED7D31" stroke-width="2.2" stroke-linejoin="round"/>
<g fill="#ED7D31"><circle cx="202.45" cy="757.99" r="2.85"/><circle cx="203.3" cy="757.99" r="2.85"/><circle cx="204.15" cy="757.99" r="2.85"/><circle cx="204.99" cy="757.99" r="2.85"/><circle cx="205.84" cy="757.99" r="2.85"/><circle cx="206.69" cy="757.99" r="2.85"/><circle cx="207.53" cy="757.99" r="2.85"/><circle cx="208.38" cy="757.99" r="2.85"/><circle cx="209.23" cy="757.99" r="2.85"/><circle cx="210.07" cy="757.99" r="2.85"/><circle cx="210.92" cy="757.99" r="2.85"/><circle cx="211.77" cy="757.99" r="2.85"/><circle cx="212.61" cy="757.98" r="2.85"/><circle cx="213.46" cy="757.98" r="2.85"/><circle cx="214.31" cy="757.98" r="2.85"/><circle cx="215.15" cy="757.96" r="2.85"/><circle cx="216" cy="757.96" r="2.85"/><circle cx="216.85" cy="757.95" r="2.85"/><circle cx="217.69" cy="757.91" r="2.85"/><circle cx="218.54" cy="757.88" r="2.85"/><circle cx="219.39" cy="757.82" r="2.85"/><circle cx="220.23" cy="757.78" r="2.85"/><circle cx="221.08" cy="757.71" r="2.85"/><circle cx="221.93" cy="757.65" r="2.85"/><circle cx="222.77" cy="757.6" r="2.85"/><circle cx="223.62" cy="757.51" r="2.85"/><circle cx="224.47" cy="757.37" r="2.85"/><circle cx="225.31" cy="757.14" r="2.85"/><circle cx="226.16" cy="756.77" r="2.85"/><circle cx="227.01" cy="756.5" r="2.85"/><circle cx="227.85" cy="756.34" r="2.85"/><circle cx="228.7" cy="755.9" r="2.85"/><circle cx="229.55" cy="755.18" r="2.85"/><circle cx="230.39" cy="754.49" r="2.85"/><circle cx="231.24" cy="753.72" r="2.85"/><circle cx="232.09" cy="752.61" r="2.85"/><circle cx="232.93" cy="751.89" r="2.85"/><circle cx="233.78" cy="750.85" r="2.85"/><circle cx="234.63" cy="749.32" r="2.85"/><circle cx="235.47" cy="747.76" r="2.85"/><circle cx="236.32" cy="745.47" r="2.85"/><circle cx="237.17" cy="742.37" r="2.85"/><circle cx="238.01" cy="739.63" r="2.85"/><circle cx="238.86" cy="737.01" r="2.85"/><circle cx="239.71" cy="734.2" r="2.85"/><circle cx="240.55" cy="730.96" r="2.85"/><circle cx="241.4" cy="726.32" r="2.85"/><circle cx="242.25" cy="721.75" r="2.85"/><circle cx="243.09" cy="716.97" r="2.85"/><circle cx="243.94" cy="712.95" r="2.85"/><circle cx="244.79" cy="706.61" r="2.85"/><circle cx="245.63" cy="702.52" r="2.85"/><circle cx="246.48" cy="698.61" r="2.85"/><circle cx="247.33" cy="692.71" r="2.85"/><circle cx="248.17" cy="688.04" r="2.85"/><circle cx="249.02" cy="678.71" r="2.85"/><circle cx="249.87" cy="673.08" r="2.85"/><circle cx="250.71" cy="667.4" r="2.85"/><circle cx="251.56" cy="662.73" r="2.85"/><circle cx="252.41" cy="657.09" r="2.85"/><circle cx="253.25" cy="652.14" r="2.85"/><circle cx="254.1" cy="647.18" r="2.85"/><circle cx="254.95" cy="641.16" r="2.85"/><circle cx="255.79" cy="635.22" r="2.85"/><circle cx="256.64" cy="628.93" r="2.85"/><circle cx="257.49" cy="623.9" r="2.85"/><circle cx="258.33" cy="619.28" r="2.85"/><circle cx="259.18" cy="614.49" r="2.85"/><circle cx="260.03" cy="609.57" r="2.85"/><circle cx="260.87" cy="603.78" r="2.85"/><circle cx="261.72" cy="598.49" r="2.85"/><circle cx="262.57" cy="593.7" r="2.85"/><circle cx="263.41" cy="589.06" r="2.85"/><circle cx="264.26" cy="584.77" r="2.85"/><circle cx="265.11" cy="580.39" r="2.85"/><circle cx="265.95" cy="573.9" r="2.85"/><circle cx="266.8" cy="567.24" r="2.85"/><circle cx="267.65" cy="562.07" r="2.85"/><circle cx="268.49" cy="557.41" r="2.85"/><circle cx="269.34" cy="553.12" r="2.85"/><circle cx="270.19" cy="548.39" r="2.85"/><circle cx="271.03" cy="541.82" r="2.85"/><circle cx="271.88" cy="535.78" r="2.85"/><circle cx="272.73" cy="530.78" r="2.85"/></g>
<polyline points="201.8,758 203.8,757.98 205.8,757.96 207.8,757.92 209.79,757.88 211.79,757.81 213.77,757.72 215.75,757.59 217.71,757.4 219.64,757.14 221.54,756.79 223.39,756.33 225.18,755.75 226.89,755.02 228.5,754.15 230.01,753.11 231.39,751.93 232.65,750.6 233.78,749.13 234.78,747.56 235.65,745.88 236.41,744.12 237.06,742.3 237.62,740.43 238.1,738.53 238.52,736.6 238.89,734.65 239.22,732.68 239.52,730.71 239.79,728.73 240.06,726.75 240.31,724.77 240.55,722.78 240.78,720.8 241,718.81 241.22,716.82 241.44,714.83 241.65,712.84 241.85,710.85 242.05,708.86 242.24,706.87 242.43,704.88 242.61,702.89 242.78,700.9 242.95,698.91 243.11,696.91 243.27,694.92 243.43,692.93 243.57,690.93 243.72,688.94 243.86,686.94 244,684.95 244.14,682.95 244.27,680.96 244.4,678.96 244.54,676.96 244.67,674.97 244.8,672.97 244.93,670.98 245.06,668.98 245.19,666.99 245.32,664.99 245.46,662.99 245.59,661 245.73,659 245.87,657.01 246.01,655.01 246.16,653.02 246.32,651.03 246.48,649.03 246.65,647.04 246.82,645.05 247,643.06 247.19,641.07 247.39,639.08 247.59,637.09 247.8,635.1 248.02,633.11 248.24,631.12 248.46,629.13 248.7,627.15 248.94,625.16 249.19,623.18 249.45,621.2 249.72,619.22 250,617.24 250.3,615.26 250.62,613.29 250.95,611.32 251.3,609.35 251.67,607.38 252.06,605.42 252.46,603.47 252.88,601.51 253.31,599.56 253.77,597.61 254.24,595.67 254.73,593.74 255.25,591.81 255.79,589.88 256.35,587.97 256.95,586.06 257.57,584.17 258.22,582.28 258.89,580.4 259.58,578.52 260.3,576.66 261.02,574.8 261.77,572.94 262.53,571.09 263.3,569.25 264.09,567.42 264.9,565.59 265.73,563.77 266.59,561.97 267.46,560.17 268.36,558.39 269.29,556.62 270.23,554.86 271.2,553.11 272.19,551.38 273.2,549.66 274.24,547.96 275.3,546.27 276.4,544.61 277.53,542.98 278.71,541.37 279.93,539.8 281.19,538.27 282.5,536.79 283.86,535.35 285.27,533.96 286.73,532.61 288.23,531.33 289.78,530.1 291.37,528.92 293.01,527.81 294.68,526.75 296.4,525.76 298.14,524.83 299.92,523.97 301.74,523.16 303.57,522.42 305.44,521.74 307.32,521.12 309.23,520.56 311.15,520.05 313.08,519.59 315.03,519.17 316.99,518.8 318.95,518.48 320.93,518.19 322.91,517.93 324.89,517.7 326.88,517.5 328.87,517.32 330.86,517.16 332.85,517.01 334.85,516.88 336.84,516.76 338.84,516.65 340.84,516.55 342.83,516.45 344.83,516.37 346.83,516.29 348.83,516.22 350.83,516.16 352.83,516.1 354.83,516.05 356.82,516.01 358.82,515.97 360.82,515.94 362.82,515.9 364.82,515.88 366.82,515.85 368.82,515.82 370.82,515.8 372.82,515.78 374.82,515.76 376.82,515.73 378.82,515.71 380.82,515.7 382.82,515.68 384.82,515.66 386.82,515.64 388.82,515.63 390.82,515.61 392.82,515.6 394.82,515.59 396.82,515.57 398.82,515.56 400.82,515.55 402.82,515.54 404.82,515.54 406.82,515.53 408.82,515.52 410.82,515.52 412.82,515.51 414.82,515.51 416.82,515.51 418.82,515.51 420.82,515.5 422.82,515.5 424.82,515.5 426.82,515.5 428.82,515.5 430.82,515.5 432.82,515.5 434.82,515.5 436.82,515.5 438.82,515.5 440.82,515.5 442.82,515.5 444.82,515.5 446.82,515.5 448.82,515.5 450.82,515.5 452.82,515.5 454.82,515.5 456.82,515.5 458.82,515.5 460.82,515.5 462.82,515.5 464.82,515.5 466.82,515.5 468.82,515.5 470.82,515.5 472.82,515.5 474.82,515.5 476.82,515.5 478.82,515.5 480.82,515.5 482.82,515.5 484.82,515.5 486.82,515.5 488.82,515.5 490.82,515.5 492.82,515.5 494.82,515.5 496.82,515.5 498.82,515.5 500.82,515.5 502.82,515.5 504.82,515.5 506.82,515.5 508.82,515.5 510.82,515.5 512.82,515.5 514.82,515.5 516.82,515.5 518.82,515.5 520.82,515.5 522.82,515.5 524.82,515.5 526.82,515.5 528.82,515.5 530.82,515.5 532.82,515.5 534.82,515.5 536.82,515.5 538.82,515.5 540.82,515.5 542.82,515.5 544.82,515.5 546.82,515.5 548.82,515.5 550.82,515.5 552.82,515.5 554.82,515.5 556.82,515.5 558.82,515.5 560.82,515.5 562.82,515.5 564.82,515.5 566.82,515.5 568.82,515.5 570.82,515.5" fill="none" stroke="#3F64A8" stroke-width="1.7" stroke-linejoin="round" stroke-linecap="round"/>
<text x="359.4" y="953.9" font-size="12" text-anchor="middle" fill="#6f6f6f" stroke="#6f6f6f" stroke-width="0" textLength="11.5" lengthAdjust="spacingAndGlyphs" font-family="Liberation Serif">41</text>
</svg>
</body></html>
